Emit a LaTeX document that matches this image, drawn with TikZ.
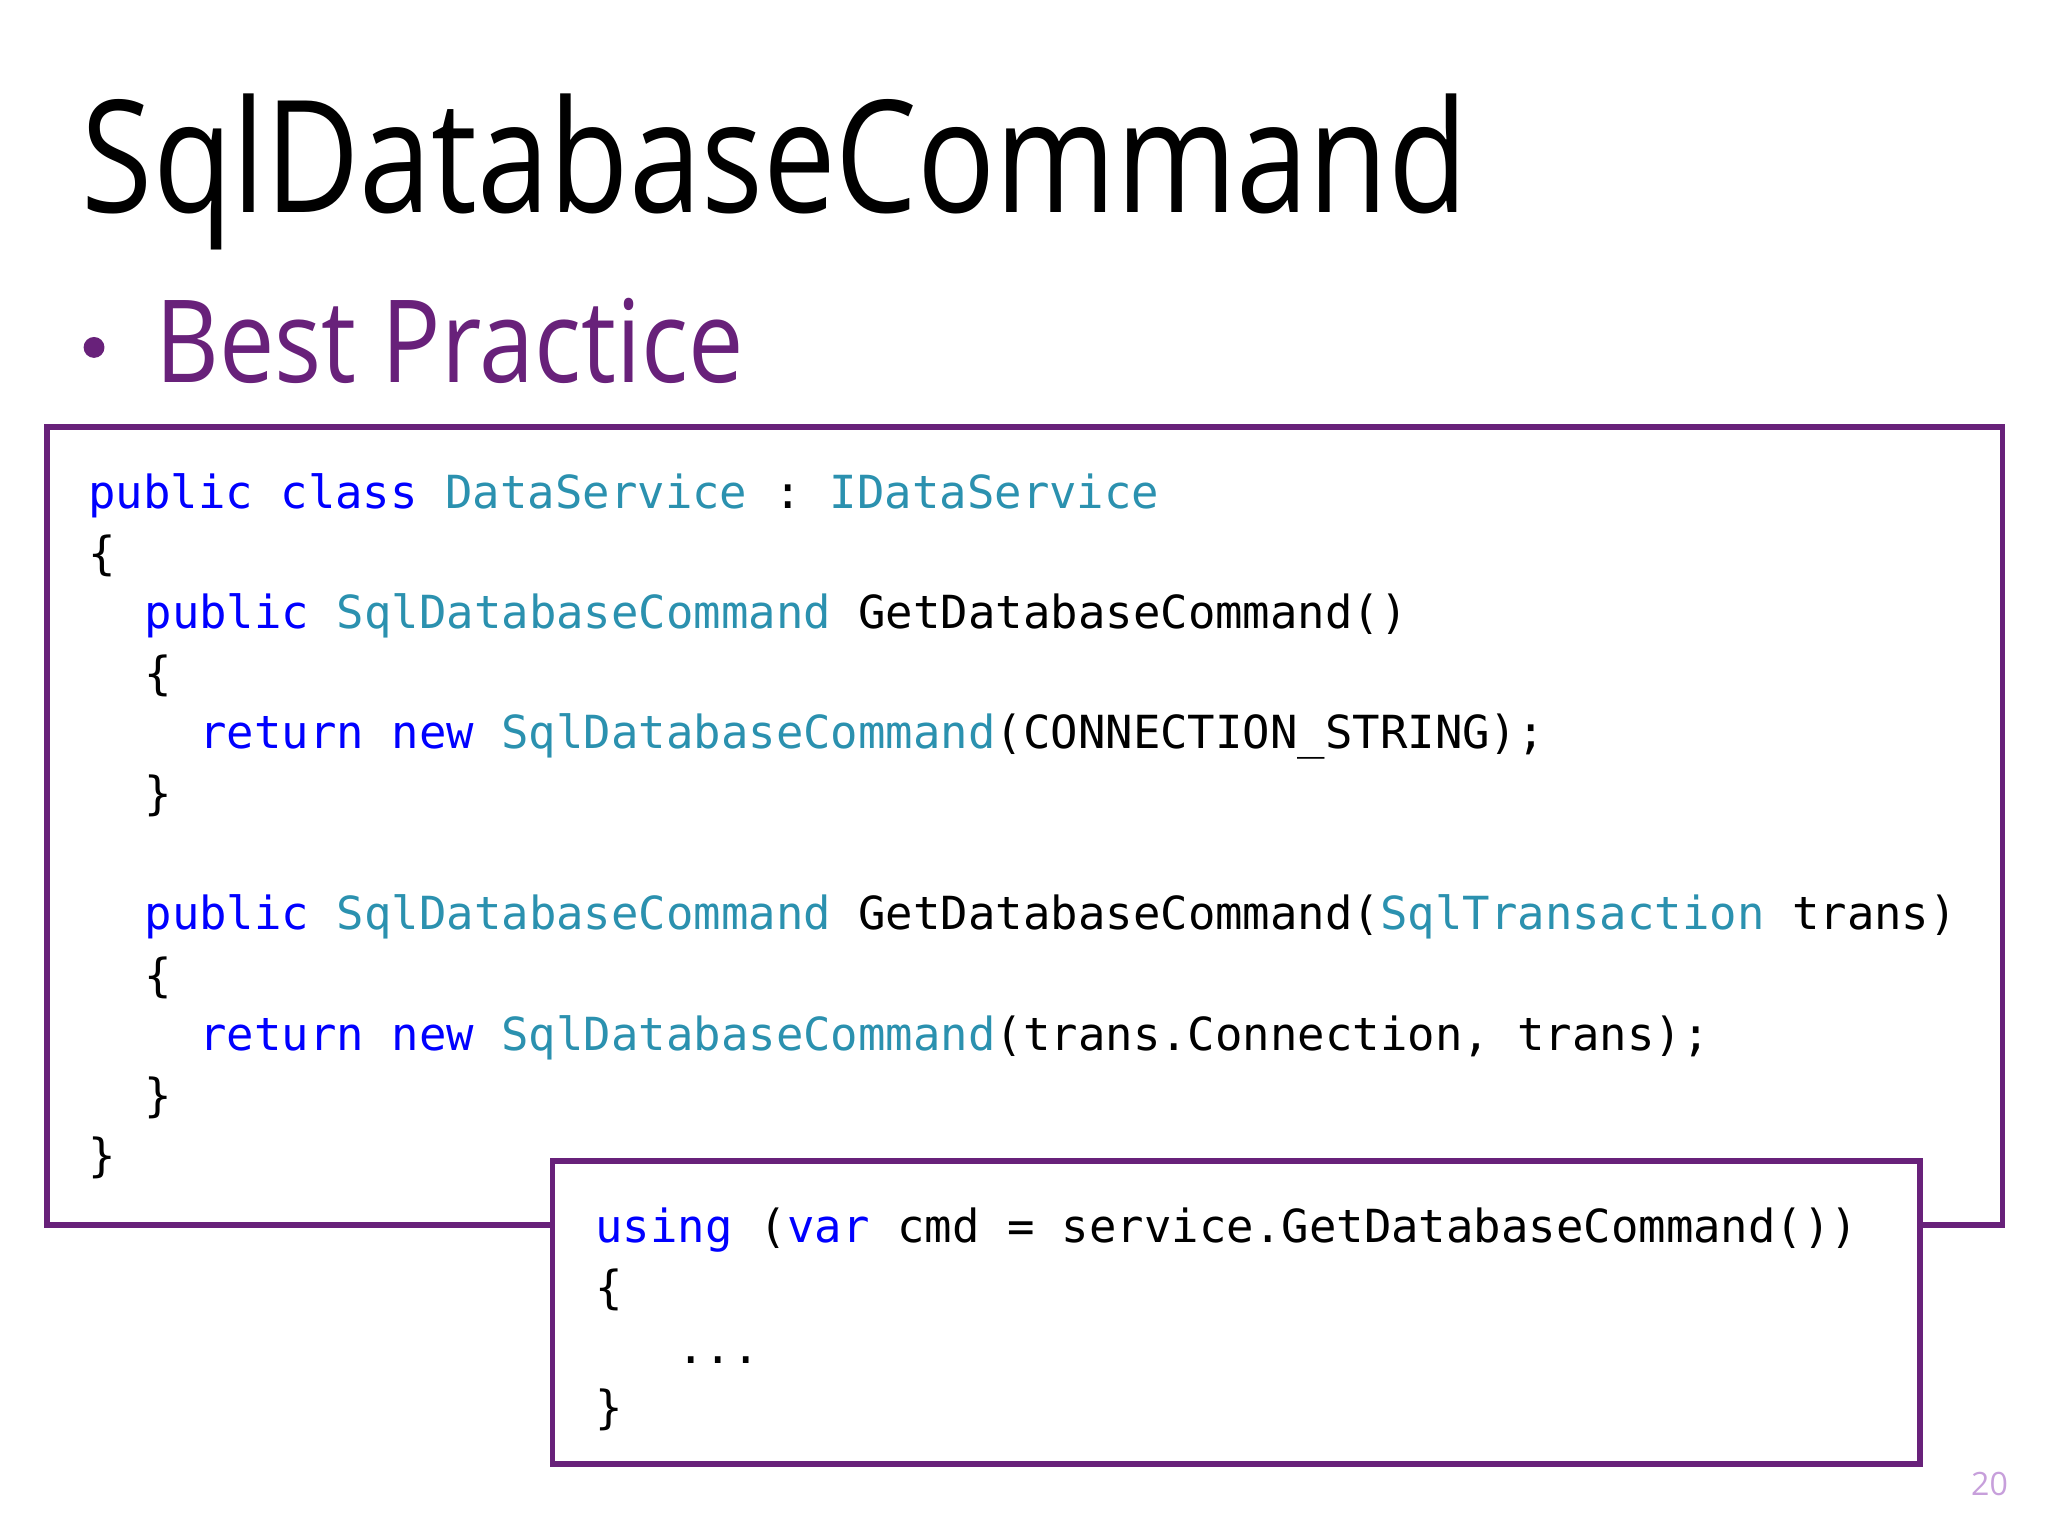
\documentclass[tikz,border=0pt]{standalone}
\usepackage{fontspec}
\setmainfont{Open Sans}
\setmonofont{DejaVu Sans Mono}
\definecolor{kw}{HTML}{0000FF}
\definecolor{ty}{HTML}{2B91AF}
\definecolor{pur}{HTML}{68217A}
\definecolor{pnum}{HTML}{C79FDB}
\newcommand{\K}[1]{{\color{kw}#1}}
\newcommand{\T}[1]{{\color{ty}#1}}
\begin{document}
\begin{tikzpicture}[x=0.01cm,y=-0.01cm,
  code/.style={anchor=base west,inner sep=0,font=\ttfamily\fontsize{9.93}{12}\selectfont},
  frame/.style={draw=pur,line width=1.2pt}]
\useasboundingbox (0,0) rectangle (1568,1176);
\node[anchor=base west,inner sep=0,font=\fontsize{34}{40}\selectfont] (title) at (62,163) {\scalebox{0.83}[1]{SqlDatabaseCommand}};
\node[anchor=base west,inner sep=0,font=\fontsize{25}{30}\selectfont,text=pur] (bp) at (118,293) {\scalebox{0.86}[1]{Best Practice}};
\fill[pur] (72,266) circle (8);
\draw[frame] (36,327) rectangle (1533,938);
\node[code] (l1) at (67,389) {\K{public class} \T{DataService} : \T{IDataService}};
\node[code] (l2) at (67,436) {\{};
\node[code] (l3) at (110,481) {\K{public} \T{SqlDatabaseCommand} GetDatabaseCommand()};
\node[code] (l4) at (110,528) {\{};
\node[code] (l5) at (152,573) {\K{return new} \T{SqlDatabaseCommand}(CONNECTION\_STRING);};
\node[code] (l6) at (110,620) {\}};
\node[code] (l7) at (110,712) {\K{public} \T{SqlDatabaseCommand} GetDatabaseCommand(\T{SqlTransaction} trans)};
\node[code] (l8) at (110,759) {\{};
\node[code] (l9) at (152,804) {\K{return new} \T{SqlDatabaseCommand}(trans.Connection, trans);};
\node[code] (l10) at (110,851) {\}};
\node[code] (l11) at (67,897) {\}};
\draw[frame,fill=white] (423,889) rectangle (1470,1121);
\node[code] (u1) at (455,951) {\K{using} (\K{var} cmd = service.GetDatabaseCommand())};
\node[code] (u2) at (455,998) {\{};
\node[code] (u3) at (518,1044) {...};
\node[code] (u4) at (455,1090) {\}};
\node[anchor=base east,inner sep=0,text=pnum,font=\fontsize{7}{8}\selectfont] (pg) at (1538,1145) {20};
\end{tikzpicture}
\end{document}
